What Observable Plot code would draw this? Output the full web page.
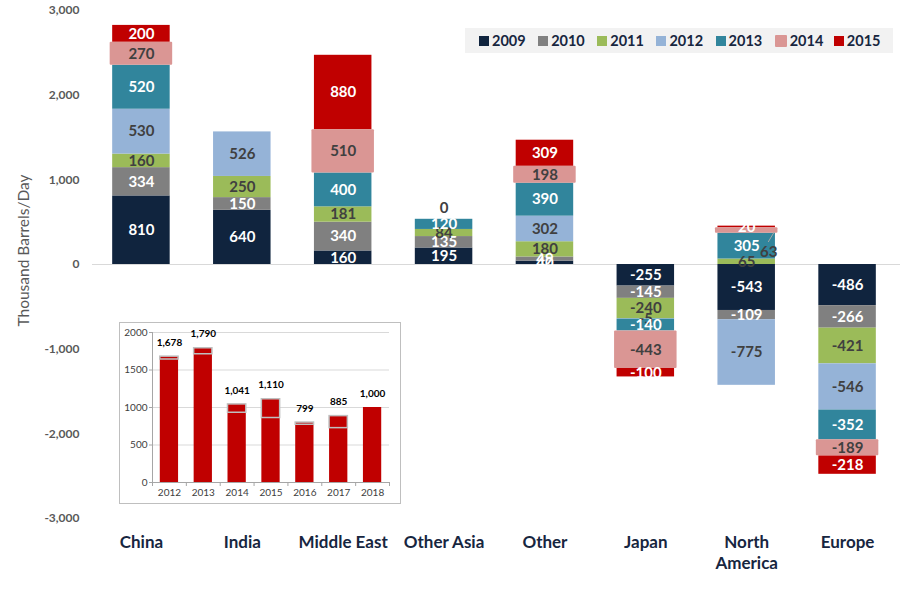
<!DOCTYPE html>
<html>
<head>
<meta charset="utf-8">
<script src="https://cdn.jsdelivr.net/npm/d3@7"></script>
<script src="https://cdn.jsdelivr.net/npm/@observablehq/plot@0.6"></script>
<style>
  html, body { margin: 0; padding: 0; background: #fff; }
  body { font-family: Lato, "Liberation Sans", sans-serif; }
  #wrap { position: relative; width: 911px; height: 595px; overflow: hidden; }
  #main { position: absolute; left: 0; top: 0; }
  #legend { position: absolute; left: 465px; top: 28px; width: 428px; height: 25px; background: #F2F2F2;
            box-sizing: border-box; padding-left: 14px; display: flex; align-items: center; }
  .li { display: flex; align-items: center; width: 60px; font-weight: bold; font-size: 14.5px; color: #17263f; }
  .sw { width: 10px; height: 10px; margin-right: 3px; flex: none; }
  #inset { position: absolute; left: 119px; top: 322px; width: 280px; height: 180px; border: 1px solid #BFBFBF; background: #fff; }
</style>
</head>
<body>
<div id="wrap">
  <div id="main"></div>
  <div id="inset"></div>
  <div id="legend"></div>
</div>
<script>
// ---- Main chart data ----
const categories = ["China", "India", "Middle East", "Other Asia", "Other", "Japan", "North America", "Europe"];
const years = ["2009", "2010", "2011", "2012", "2013", "2014", "2015"];
const v2009 = [810, 640, 160, 195, 40, -255, -543, -486];
const v2010 = [334, 150, 340, 135, 49, -145, -109, -266];
const v2011 = [160, 250, 181, 84, 180, -240, 65, -421];
const v2012 = [530, 526, null, null, 302, -5, -775, -546];
const v2013 = [520, null, 400, 120, 390, -140, 305, -352];
const v2014 = [270, null, 510, null, 198, -443, 63, -189];
const v2015 = [200, null, 880, 0, 309, -100, 20, -218];
const yTicks = [-3000, -2000, -1000, 0, 1000, 2000, 3000];

// ---- Inset data ----
const insetYears = [2012, 2013, 2014, 2015, 2016, 2017, 2018];
const insetValues = [1678, 1790, 1041, 1110, 799, 885, 1000];
const insetLower = [1640, 1710, 930, 860, 770, 725, 1000];
const insetTicks = [0, 500, 1000, 1500, 2000];

// ---- Styles ----
const colors = ["#10243E", "#808080", "#9BBB59", "#95B3D7", "#31859C", "#DA9694", "#C00000"];
const labelColors = {"2009": "#fff", "2010": "#fff", "2011": "#404040", "2012": "#404040", "2013": "#fff", "2014": "#404040", "2015": "#fff"};
const outsideLabels = [{cat: "North America", year: "2014"}];

const series = [v2009, v2010, v2011, v2012, v2013, v2014, v2015];
const rows = [];
categories.forEach((c, i) => {
  let pos = 0, neg = 0;
  series.forEach((s, k) => {
    const v = s[i];
    if (v == null) return;
    let y1, y2;
    if (v >= 0) { y1 = pos; y2 = pos + v; pos = y2; }
    else { y1 = neg; y2 = neg + v; neg = y2; }
    rows.push({cat: c, year: years[k], value: v, y1, y2});
  });
});
const isOutside = d => outsideLabels.some(o => o.cat === d.cat && o.year === d.year);
const inner = rows.filter(d => d.value !== 0 && !isOutside(d));
const zeros = rows.filter(d => d.value === 0);
const outs = rows.filter(isOutside);
const fmt = d => d.toLocaleString("en-US");

const main = Plot.plot({
  width: 911, height: 595,
  marginTop: 10, marginBottom: 77, marginLeft: 92, marginRight: 15,
  style: {fontFamily: "Lato, 'Liberation Sans', sans-serif", background: "transparent"},
  x: {domain: categories, paddingInner: 0.43, paddingOuter: 0.2, round: false, label: null},
  y: {domain: [-3000, 3000], label: null},
  color: {domain: years, range: colors},
  marks: [
    Plot.ruleY([0], {stroke: "#D9D9D9", strokeWidth: 1.2, insetRight: -4}),
    Plot.barY(rows.filter(d => d.year !== "2014"), {x: "cat", y1: "y1", y2: "y2", fill: "year"}),
    Plot.barY(rows.filter(d => d.year === "2014"), {x: "cat", y1: "y1", y2: "y2", fill: "year", insetLeft: -2.5, insetRight: -2.5, rx: 1}),
    Plot.text(inner, {x: "cat", y: d => (d.y1 + d.y2) / 2, text: d => String(d.value),
      fill: d => labelColors[d.year], fontWeight: "bold", fontSize: 15}),
    Plot.text(zeros, {x: "cat", y: "y1", text: d => String(d.value), dy: -11,
      fill: "#404040", fontWeight: "bold", fontSize: 15}),
    Plot.text(outs, {x: "cat", y: d => (d.y1 + d.y2) / 2, text: d => String(d.value), dx: 22, dy: 22,
      fill: "#404040", fontWeight: "bold", fontSize: 15}),
    Plot.axisY({ticks: yTicks, tickSize: 0, tickPadding: 13, tickFormat: fmt, fontSize: 12, fontWeight: "bold", fill: "#595959", label: null}),
    Plot.text(["Thousand Barrels/Day"], {frameAnchor: "left", textAnchor: "middle", dx: -68, dy: -14, rotate: -90, fontSize: 15.5, fill: "#595959"}),
    Plot.axisX({tickSize: 0, tickPadding: 14, fontSize: 17, fontWeight: "bold", fill: "#17263f", lineHeight: 1.25,
      tickFormat: d => d === "North America" ? "North\nAmerica" : d, label: null})
  ]
});
document.getElementById("main").appendChild(main);

// leader line for outside label (positioned through the chart's scales)
{
  const sx = main.scale("x"), sy = main.scale("y");
  outs.forEach(d => {
    const cx = sx.apply(d.cat) + sx.bandwidth / 2;
    const cy = sy.apply((d.y1 + d.y2) / 2);
    d3.select(main).append("line").attr("x1", cx + 22).attr("y1", cy + 12).attr("x2", cx + 28).attr("y2", cy + 2)
      .attr("stroke", "#A6A6A6").attr("stroke-width", 1);
  });
}

// ---- Legend ----
const legend = document.getElementById("legend");
years.forEach((y, i) => {
  const item = document.createElement("div");
  item.className = "li";
  const sw = document.createElement("span");
  sw.className = "sw";
  sw.style.background = colors[i];
  if (y === "2014") { sw.style.width = "12px"; sw.style.height = "12px"; sw.style.borderRadius = "1px"; }
  item.appendChild(sw);
  item.appendChild(document.createTextNode(y));
  legend.appendChild(item);
});

// ---- Inset ----
const insetData = insetYears.map((y, i) => ({year: y, value: insetValues[i], lower: insetLower[i]}));
const inset = Plot.plot({
  width: 280, height: 180,
  marginTop: 9, marginBottom: 21, marginLeft: 32, marginRight: 11,
  style: {fontFamily: "Lato, 'Liberation Sans', sans-serif", background: "transparent"},
  x: {domain: [2011.5, 2018.5], label: null},
  y: {domain: [0, 2000], label: null},
  marks: [
    Plot.ruleY(insetTicks.filter(t => t > 0), {stroke: "#D9D9D9"}),
    Plot.rectY(insetData, {x1: d => d.year - 0.27, x2: d => d.year + 0.27, y: "value", fill: "#C00000"}),
    Plot.rectY(insetData.filter(d => d.lower < d.value), {x1: d => d.year - 0.27, x2: d => d.year + 0.27, y1: "lower", y2: "value",
      fill: "#C00000", stroke: "#BFBFBF", strokeWidth: 1.5}),
    Plot.ruleX([2011.5], {stroke: "#A6A6A6"}),
    Plot.ruleY([0], {stroke: "#A6A6A6"}),
    Plot.text(insetData, {x: "year", y: "value", text: d => fmt(d.value), dy: -14, fontSize: 10, fontWeight: "bold", fill: "#000"}),
    Plot.axisY({ticks: insetTicks, tickSize: 3, tickPadding: 2, fontSize: 10, fill: "#404040", stroke: "#A6A6A6", label: null, tickFormat: d => String(d)}),
    Plot.axisX({ticks: d3.range(2011.5, 2019, 1), tickSize: 4, stroke: "#A6A6A6", tickFormat: () => "", label: null}),
    Plot.axisX({ticks: insetYears, tickSize: 0, tickPadding: 6, fontSize: 10, fill: "#404040", tickFormat: d => String(d), label: null})
  ]
});
document.getElementById("inset").appendChild(inset);
</script>
</body>
</html>
